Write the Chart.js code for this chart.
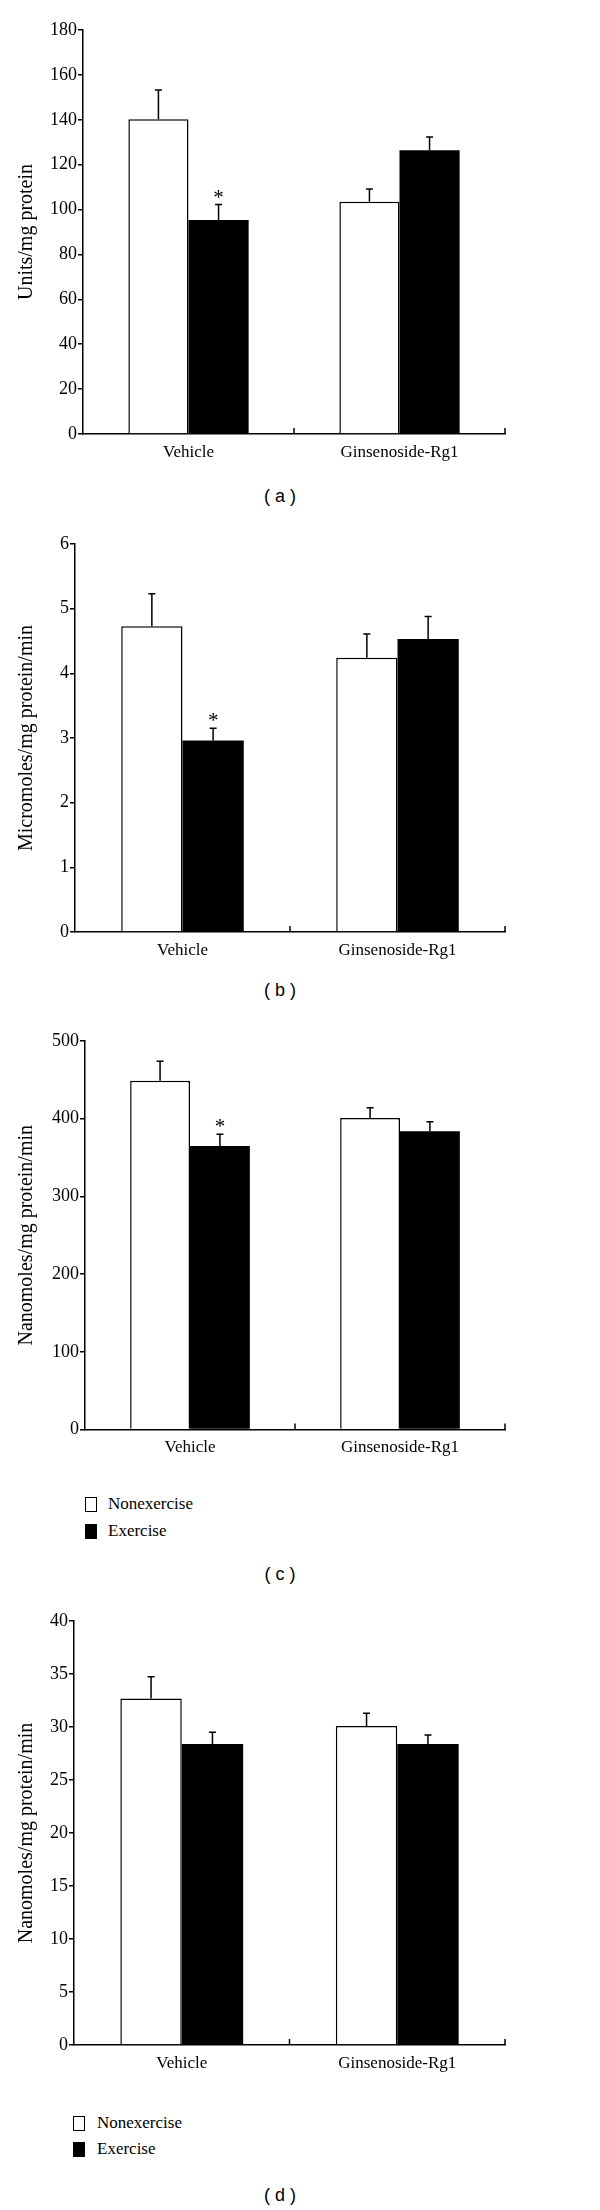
<!DOCTYPE html>
<html>
<head>
<meta charset="utf-8">
<script src="https://cdn.jsdelivr.net/npm/chart.js@4.4.1/dist/chart.umd.min.js"></script>
<style>
    body { margin: 0; background: #fff; }
    #page { position: relative; width: 600px; height: 2210px; background: #fff; overflow: hidden; }
    canvas { position: absolute; left: 0; }
    .panelLabel { position: absolute; width: 80px; margin-left: -40px; text-align: center;
        font: 18px "Liberation Sans", Arial, sans-serif; color: #000; line-height: 20px; }
    .legendRow { position: absolute; font: 17px "Liberation Serif", "Times New Roman", serif; color: #000;
        line-height: 20px; white-space: nowrap; }
    .legendBox { position: absolute; width: 10px; height: 13px; border: 1.2px solid #000; }
</style>
</head>
<body>
<div id="page">
    <canvas id="chartA" width="600" height="470" style="top:0px"></canvas>
    <canvas id="chartB" width="600" height="460" style="top:510px"></canvas>
    <canvas id="chartC" width="600" height="460" style="top:1010px"></canvas>
    <canvas id="chartD" width="600" height="485" style="top:1595px"></canvas>
</div>
<script>
// categories and series
const groups = ['Vehicle', 'Ginsenoside-Rg1'];
const seriesNames = ['Nonexercise', 'Exercise'];

// (a) Units/mg protein
const aNonex = [140.2, 103.5];
const aNonexErr = [13.1, 5.7];
const aEx = [95.3, 126.4];
const aExErr = [6.9, 5.9];

// (b) Micromoles/mg protein/min
const bNonex = [4.73, 4.24];
const bNonexErr = [0.50, 0.37];
const bEx = [2.96, 4.53];
const bExErr = [0.19, 0.35];

// (c) Nanomoles/mg protein/min
const cNonex = [449, 401];
const cNonexErr = [25, 13];
const cEx = [365, 384];
const cExErr = [15, 12];

// (d) Nanomoles/mg protein/min
const dNonex = [32.7, 30.1];
const dNonexErr = [2.05, 1.2];
const dEx = [28.4, 28.4];
const dExErr = [1.1, 0.85];

// asterisk marks on the exercise bars
const aStar = [true, false];
const bStar = [true, false];
const cStar = [true, false];
const dStar = [false, false];

const yTitles = ['Units/mg protein', 'Micromoles/mg protein/min', 'Nanomoles/mg protein/min', 'Nanomoles/mg protein/min'];
const yMax = [180, 6, 500, 40];
const yStep = [20, 1, 100, 5];
const panelNames = ['( a )', '( b )', '( c )', '( d )'];

const serif = '"Liberation Serif", "Times New Roman", serif';

// error bars + asterisks, drawn with the y scale
const errorBars = {
    id: 'errorBars',
    afterDatasetsDraw(chart) {
        const ctx = chart.ctx;
        const y = chart.scales.y;
        ctx.save();
        ctx.strokeStyle = '#000';
        ctx.lineWidth = 1.5;
        chart.data.datasets.forEach((ds, i) => {
            const meta = chart.getDatasetMeta(i);
            meta.data.forEach((bar, j) => {
                const top = y.getPixelForValue(ds.data[j] + ds.errors[j]);
                ctx.beginPath();
                ctx.moveTo(bar.x, bar.y);
                ctx.lineTo(bar.x, top);
                ctx.moveTo(bar.x - 3.5, top);
                ctx.lineTo(bar.x + 3.5, top);
                ctx.stroke();
                if (ds.stars && ds.stars[j]) {
                    ctx.fillStyle = '#000';
                    ctx.font = '21px ' + serif;
                    ctx.textAlign = 'center';
                    ctx.textBaseline = 'alphabetic';
                    ctx.fillText('*', bar.x, top - 1);
                }
            });
        });
        ctx.restore();
    }
};

// small upward ticks between the categories on the x axis
const catTicks = {
    id: 'catTicks',
    afterDraw(chart) {
        const x = chart.scales.x;
        const ctx = chart.ctx;
        const step = x.width / x.ticks.length;
        ctx.save();
        ctx.strokeStyle = '#000';
        ctx.lineWidth = 1.5;
        x.ticks.forEach((t, i) => {
            const px = x.getPixelForTick(i) + step / 2;
            ctx.beginPath();
            ctx.moveTo(px, x.top);
            ctx.lineTo(px, x.top - 6);
            ctx.stroke();
        });
        ctx.restore();
    }
};

const makeChart = (id, idx, nonex, nonexErr, ex, exErr, stars, yWidth, padTop, xHeight) => {
    const ctx = document.getElementById(id).getContext('2d');
    return new Chart(ctx, {
        type: 'bar',
        data: {
            labels: groups,
            datasets: [{
                label: seriesNames[0],
                data: nonex,
                errors: nonexErr,
                backgroundColor: '#fff',
                borderColor: '#000',
                borderWidth: 1.5,
                categoryPercentage: 0.57,
                barPercentage: 1.0
            }, {
                label: seriesNames[1],
                data: ex,
                errors: exErr,
                stars: stars,
                backgroundColor: '#000',
                borderColor: '#000',
                borderWidth: 0,
                categoryPercentage: 0.57,
                barPercentage: 1.0
            }]
        },
        options: {
            responsive: false,
            animation: false,
            layout: { padding: { top: padTop, right: 95, left: 0, bottom: 0 } },
            plugins: { legend: { display: false }, tooltip: { enabled: false } },
            scales: {
                x: {
                    grid: { display: false, drawTicks: false, tickLength: 0 },
                    border: { display: true, color: '#000', width: 1.5 },
                    ticks: { color: '#000', padding: 8, font: { family: serif, size: 17 } },
                    afterFit: (s) => { s.height = xHeight; }
                },
                y: {
                    min: 0,
                    max: yMax[idx],
                    ticks: { stepSize: yStep[idx], color: '#000', padding: 1, font: { family: serif, size: 18 } },
                    grid: { display: true, drawOnChartArea: false, drawTicks: true, tickLength: 5, color: '#000', lineWidth: 1.5 },
                    border: { display: true, color: '#000', width: 1.5 },
                    title: { display: true, text: yTitles[idx], color: '#000', padding: { top: 15, bottom: 0 },
                        font: { family: serif, size: 20 } },
                    afterFit: (s) => { s.width = yWidth; }
                }
            }
        },
        plugins: [errorBars, catTicks]
    });
};

makeChart('chartA', 0, aNonex, aNonexErr, aEx, aExErr, aStar, 83, 30, 36);
makeChart('chartB', 1, bNonex, bNonexErr, bEx, bExErr, bStar, 75, 34, 38);
makeChart('chartC', 2, cNonex, cNonexErr, cEx, cExErr, cStar, 85, 31, 40.5);
makeChart('chartD', 3, dNonex, dNonexErr, dEx, dExErr, dStar, 74, 26, 35);

// panel labels and legends as page text
const page = document.getElementById('page');
const labelY = [496, 990, 1574, 2195];
panelNames.forEach((name, i) => {
    const el = document.createElement('div');
    el.className = 'panelLabel';
    el.textContent = name;
    el.style.left = '280px';
    el.style.top = (labelY[i] - 10) + 'px';
    page.appendChild(el);
});

const legends = [
    { box: 85, text: 108, rows: [1504, 1531] },
    { box: 73, text: 97, rows: [2123, 2149] }
];
const fills = ['#fff', '#000'];
legends.forEach(lg => {
    seriesNames.forEach((name, k) => {
        const box = document.createElement('div');
        box.className = 'legendBox';
        box.style.left = lg.box + 'px';
        box.style.top = (lg.rows[k] - 7.5) + 'px';
        box.style.background = fills[k];
        page.appendChild(box);
        const row = document.createElement('div');
        row.className = 'legendRow';
        row.textContent = name;
        row.style.left = lg.text + 'px';
        row.style.top = (lg.rows[k] - 10) + 'px';
        page.appendChild(row);
    });
});
</script>
</body>
</html>
